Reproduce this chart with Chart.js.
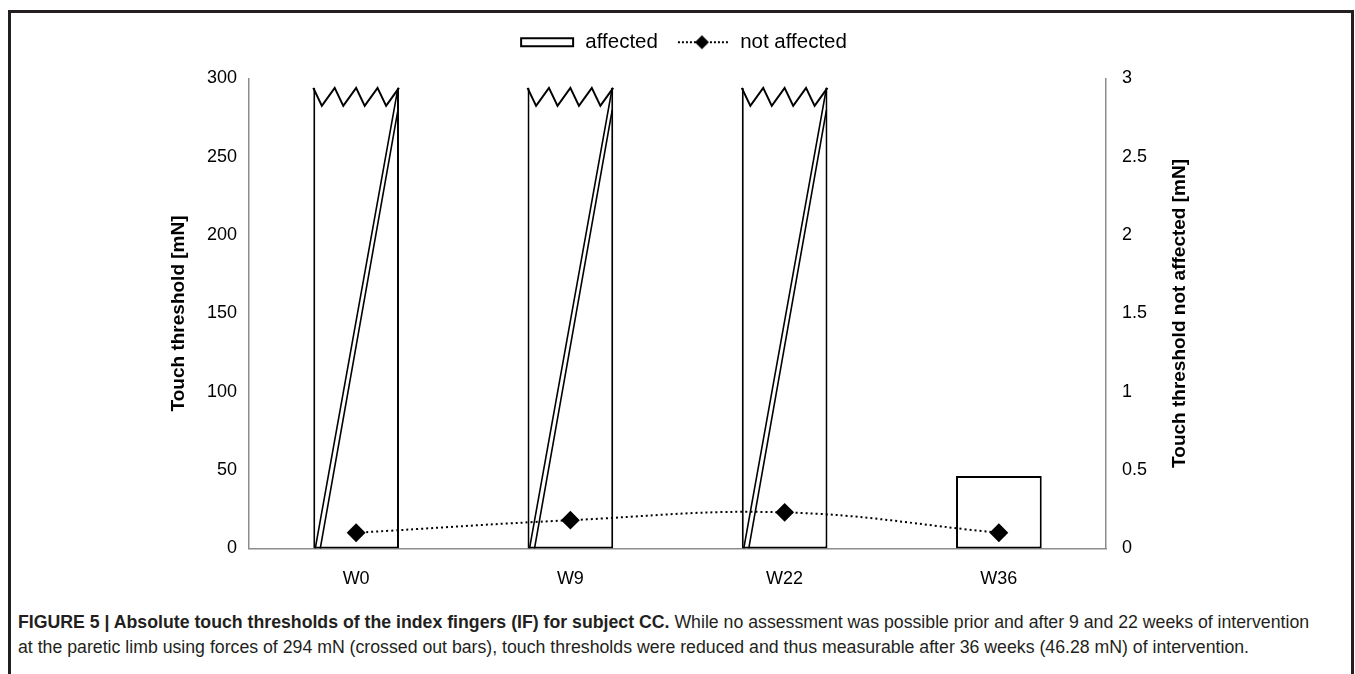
<!DOCTYPE html>
<html>
<head>
    <title>Touch thresholds</title>
    <script src="https://cdn.jsdelivr.net/npm/chart.js"></script>
    <style>
        body { margin: 0; background: #fff; }
        .frame {
            position: absolute;
            left: 8px; top: 10px;
            width: 1340px; height: 700px;
            border: 3px solid #231f20;
            border-bottom: none;
        }
        .chart-box {
            position: absolute;
            left: 10px; top: 13px;
            width: 1338px; height: 597px;
        }
        .caption {
            position: absolute;
            left: 18px; top: 610px;
            width: 1325px;
            font-family: "Liberation Sans", Arial, sans-serif;
            font-size: 17.72px;
            line-height: 25px;
            color: #231f20;
            white-space: nowrap;
        }
    </style>
</head>
<body>
    <div class="frame"></div>
    <div class="chart-box"><canvas id="graph"></canvas></div>
    <div class="caption">
        <b>FIGURE 5 | Absolute touch thresholds of the index fingers (IF) for subject CC.</b> While no assessment was possible prior and after 9 and 22 weeks of intervention<br>
        at the paretic limb using forces of 294 mN (crossed out bars), touch thresholds were reduced and thus measurable after 36 weeks (46.28 mN) of intervention.
    </div>

    <script>
        const weeks = ['W0', 'W9', 'W22', 'W36'];
        const affected = [294, 294, 294, 46.28];
        const crossedOut = [true, true, true, false];
        const notAffected = [0.1, 0.18, 0.23, 0.1];
        const leftTicks = [0, 50, 100, 150, 200, 250, 300];
        const rightTicks = [0, 0.5, 1, 1.5, 2, 2.5, 3];

        const axisGrey = '#8c8c8c';
        const ink = '#000';
        const titleFont = 'bold 19px "Liberation Sans", Arial, sans-serif';

        // legend swatches
        function barSwatch() {
            const c = document.createElement('canvas');
            c.width = 56; c.height = 12;
            const g = c.getContext('2d');
            g.strokeStyle = ink; g.lineWidth = 2;
            g.strokeRect(2, 2, 52, 8);
            return c;
        }
        function lineSwatch() {
            const c = document.createElement('canvas');
            c.width = 56; c.height = 16;
            const g = c.getContext('2d');
            g.strokeStyle = ink; g.lineWidth = 2;
            g.setLineDash([2, 2]);
            g.beginPath(); g.moveTo(4, 8); g.lineTo(54, 8); g.stroke();
            g.fillStyle = ink;
            g.beginPath();
            g.moveTo(28, 1); g.lineTo(35, 8); g.lineTo(28, 15); g.lineTo(21, 8);
            g.closePath(); g.fill();
            return c;
        }

        // zigzag top + double strike for bars that could not be measured
        const crossPlugin = {
            id: 'crossOut',
            afterDatasetDraw(chart, args) {
                if (args.index !== 0) return;
                const g = chart.ctx;
                args.meta.data.forEach((bar, i) => {
                    if (!crossedOut[i]) return;
                    const p = bar.getProps(['x', 'y', 'width', 'base'], true);
                    const l = p.x - p.width / 2, r = p.x + p.width / 2;
                    const t = p.y, b = p.base;
                    g.save();
                    g.strokeStyle = ink;
                    g.lineWidth = 2;
                    g.beginPath();
                    g.moveTo(l, t);
                    const q = p.width / 4;
                    for (let k = 0; k < 4; k++) {
                        g.lineTo(l + q * k + q * 0.4, t + 18);
                        g.lineTo(l + q * (k + 1), t);
                    }
                    g.stroke();
                    g.lineWidth = 1.6;
                    g.beginPath();
                    g.moveTo(r - 1, t); g.lineTo(l + 2, b);
                    g.moveTo(r - 1, t + 22); g.lineTo(l + 7, b);
                    g.stroke();
                    g.restore();
                });
            }
        };

        // right axis title reads bottom-to-top, like the left one
        const rightTitle = {
            id: 'rightTitle',
            afterDraw(chart) {
                const s = chart.scales.y2;
                const a = chart.chartArea;
                const g = chart.ctx;
                g.save();
                g.translate(s.left + 74, (a.top + a.bottom) / 2);
                g.rotate(-Math.PI / 2);
                g.font = titleFont;
                g.fillStyle = ink;
                g.textAlign = 'center';
                g.textBaseline = 'middle';
                g.fillText('Touch threshold not affected [mN]', 0, 0);
                g.restore();
            }
        };

        // a little more room under the legend
        const legendGap = {
            id: 'legendGap',
            beforeInit(chart) {
                const fit = chart.legend.fit;
                chart.legend.fit = function () {
                    fit.bind(chart.legend)();
                    this.height += 16;
                };
            }
        };

        Chart.defaults.font.family = '"Liberation Sans", Arial, sans-serif';
        Chart.defaults.color = ink;

        const ctx = document.getElementById('graph').getContext('2d');
        new Chart(ctx, {
            data: {
                labels: weeks,
                datasets: [{
                    type: 'bar',
                    label: 'affected',
                    data: affected,
                    yAxisID: 'y',
                    backgroundColor: '#fff',
                    borderColor: ink,
                    borderWidth: 2,
                    borderSkipped: c => crossedOut[c.dataIndex] ? 'top' : false,
                    barPercentage: 0.4,
                    categoryPercentage: 1,
                    order: 2
                }, {
                    type: 'line',
                    label: 'not affected',
                    data: notAffected,
                    yAxisID: 'y2',
                    borderColor: ink,
                    backgroundColor: ink,
                    borderWidth: 2,
                    borderDash: [2, 3],
                    tension: 0.4,
                    pointStyle: 'rectRot',
                    pointRadius: 8,
                    pointHoverRadius: 8,
                    order: 1
                }]
            },
            options: {
                responsive: true,
                maintainAspectRatio: false,
                animation: false,
                layout: { padding: { left: 140, right: 132, top: 3, bottom: 0 } },
                plugins: {
                    tooltip: { enabled: false },
                    legend: {
                        position: 'top',
                        labels: {
                            usePointStyle: true,
                            pointStyleWidth: 56,
                            padding: 16,
                            font: { size: 20.5 },
                            color: ink,
                            generateLabels: () => [
                                { text: 'affected', pointStyle: barSwatch(), fillStyle: '#fff', strokeStyle: ink, lineWidth: 0, datasetIndex: 0 },
                                { text: 'not affected', pointStyle: lineSwatch(), fillStyle: ink, strokeStyle: ink, lineWidth: 0, datasetIndex: 1 }
                            ]
                        }
                    }
                },
                scales: {
                    x: {
                        grid: { display: false, drawTicks: false },
                        border: { color: axisGrey, width: 1.5 },
                        ticks: { font: { size: 18 }, padding: 20, color: ink }
                    },
                    y: {
                        position: 'left',
                        min: 0, max: 300,
                        afterBuildTicks: s => { s.ticks = leftTicks.map(v => ({ value: v })); },
                        afterFit: s => { s.width = 99; },
                        grid: { display: false, drawOnChartArea: false, drawTicks: true, tickLength: 6, color: axisGrey },
                        border: { color: axisGrey, width: 1.5 },
                        ticks: { font: { size: 18 }, padding: 6, color: ink },
                        title: {
                            display: true,
                            text: 'Touch threshold [mN]',
                            font: { size: 19, weight: 'bold' },
                            color: ink,
                            padding: { top: 17, bottom: 10 }
                        }
                    },
                    y2: {
                        position: 'right',
                        min: 0, max: 3,
                        afterBuildTicks: s => { s.ticks = rightTicks.map(v => ({ value: v })); },
                        afterFit: s => { s.width = 110; },
                        grid: { display: false, drawOnChartArea: false, drawTicks: true, tickLength: 6, color: axisGrey },
                        border: { color: axisGrey, width: 1.5 },
                        ticks: { font: { size: 18 }, padding: 10, color: ink, callback: v => String(v) }
                    }
                }
            },
            plugins: [crossPlugin, rightTitle, legendGap]
        });
    </script>
</body>
</html>
